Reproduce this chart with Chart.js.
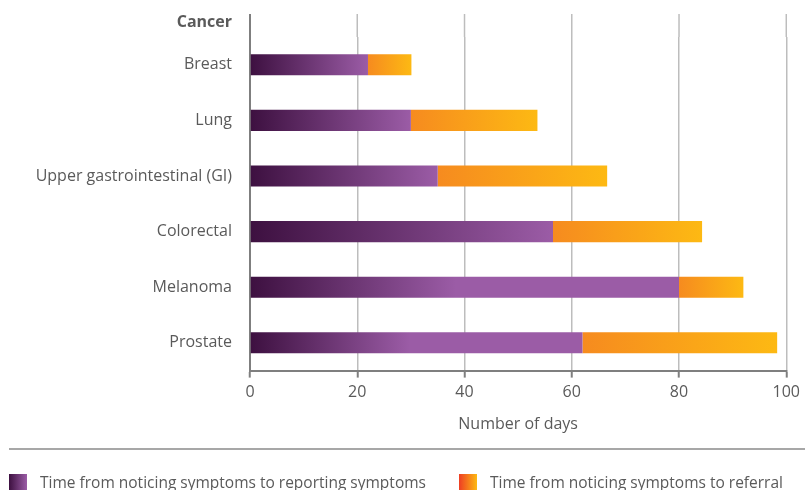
<!DOCTYPE html>
<html lang="en">
  <head>
    <meta charset="UTF-8" />
    <title>Cancer referral times</title>
    <script src="https://cdn.jsdelivr.net/npm/chart.js"></script>
    <style>
      html, body { margin: 0; padding: 0; background: #fff; overflow: hidden; }
      #wrap { position: relative; width: 805px; height: 490px; }
    </style>
  </head>
  <body>
    <div id="wrap"><canvas id="myChart"></canvas></div>

    <script>
      // data (days)
      const cancers = ['Breast', 'Lung', 'Upper gastrointestinal (GI)', 'Colorectal', 'Melanoma', 'Prostate'];
      const reportingDays = [22, 30, 35, 56.5, 80, 62];
      const referralDays = [8.1, 23.6, 31.6, 27.8, 12, 36.3];
      const xTicks = [0, 20, 40, 60, 80, 100];
      const seriesNames = [
        'Time from noticing symptoms to reporting symptoms',
        'Time from noticing symptoms to referral'
      ];

      const FONT = "'Open Sans', 'Noto Sans', sans-serif";
      const TEXT = '#5a5a5a';
      const PURPLE = ['#3d1040', '#9b5ca6'];
      const ORANGE = ['#f68b1f', '#fdb913'];

      function barGradient(ctx, from, to, c0, c1, stopAt) {
        const chart = ctx.chart;
        if (!chart.chartArea) return c1;
        const x = chart.scales.x;
        const x0 = x.getPixelForValue(from);
        const x1 = x.getPixelForValue(to);
        const g = chart.ctx.createLinearGradient(x0, 0, x0 + (x1 - x0) * stopAt, 0);
        g.addColorStop(0, c0);
        g.addColorStop(1, c1);
        return g;
      }

      // grid above the plot, heading, rule and legend
      const extras = {
        id: 'extras',
        afterDraw(chart) {
          const ctx = chart.ctx;
          const area = chart.chartArea;
          const x = chart.scales.x;
          ctx.save();
          ctx.lineWidth = 1.5;
          ctx.strokeStyle = '#bdbdbd';
          xTicks.slice(1).forEach(v => {
            const px = x.getPixelForValue(v);
            ctx.beginPath();
            ctx.moveTo(px, 14);
            ctx.lineTo(px, area.top);
            ctx.stroke();
          });
          ctx.lineWidth = 2;
          ctx.strokeStyle = '#7f7f7f';
          ctx.beginPath();
          ctx.moveTo(area.left, 14);
          ctx.lineTo(area.left, area.top);
          ctx.stroke();

          ctx.font = 'bold 16px ' + FONT;
          ctx.fillStyle = TEXT;
          ctx.textAlign = 'right';
          ctx.textBaseline = 'middle';
          ctx.fillText('Cancer', 232, 22);

          ctx.lineWidth = 1.5;
          ctx.strokeStyle = '#8a8a8a';
          ctx.beginPath();
          ctx.moveTo(9, 449);
          ctx.lineTo(805, 449);
          ctx.stroke();

          // legend
          const items = [
            { x: 9, colors: PURPLE, text: seriesNames[0] },
            { x: 459, colors: ['#ee3e24', '#fdb913'], text: seriesNames[1] }
          ];
          ctx.font = '15.5px ' + FONT;
          ctx.textAlign = 'left';
          items.forEach(it => {
            const g = ctx.createLinearGradient(it.x, 0, it.x + 18, 0);
            g.addColorStop(0, it.colors[0]);
            g.addColorStop(1, it.colors[1]);
            ctx.fillStyle = g;
            ctx.fillRect(it.x, 474, 18, 18);
            ctx.fillStyle = TEXT;
            ctx.fillText(it.text, it.x + 31, 484);
          });
          ctx.restore();
        }
      };

      const ctx = document.getElementById('myChart').getContext('2d');
      new Chart(ctx, {
        type: 'bar',
        data: {
          labels: cancers,
          datasets: [
            {
              label: seriesNames[0],
              data: reportingDays,
              backgroundColor: c => barGradient(c, 0, reportingDays[c.dataIndex], PURPLE[0], PURPLE[1],
                reportingDays[c.dataIndex] > 60 ? 0.48 : 1),
              borderWidth: 0
            },
            {
              label: seriesNames[1],
              data: referralDays,
              backgroundColor: c => barGradient(c, reportingDays[c.dataIndex],
                reportingDays[c.dataIndex] + referralDays[c.dataIndex], ORANGE[0], ORANGE[1], 1),
              borderWidth: 0
            }
          ]
        },
        options: {
          indexAxis: 'y',
          responsive: true,
          maintainAspectRatio: false,
          animation: false,
          layout: { padding: { top: 37, right: 17, left: 0, bottom: 44 } },
          datasets: { bar: { categoryPercentage: 1, barPercentage: 0.38 } },
          scales: {
            x: {
              stacked: true,
              min: 0,
              max: 100,
              afterBuildTicks: axis => { axis.ticks = xTicks.map(v => ({ value: v })); },
              ticks: { color: TEXT, font: { family: FONT, size: 16 }, padding: 5 },
              grid: { color: '#bdbdbd', lineWidth: 1.5, tickLength: 7, tickColor: '#7f7f7f', tickWidth: 2 },
              border: { color: '#7f7f7f', width: 2 },
              title: {
                display: true,
                text: 'Number of days',
                color: TEXT,
                font: { family: FONT, size: 16 },
                padding: { top: 8, bottom: 12 }
              }
            },
            y: {
              stacked: true,
              afterFit: axis => { axis.width = 250; },
              ticks: { color: TEXT, font: { family: FONT, size: 16 }, padding: 18 },
              grid: { display: false, drawTicks: false },
              border: { color: '#7f7f7f', width: 2 }
            }
          },
          plugins: {
            tooltip: { enabled: false },
            legend: { display: false }
          }
        },
        plugins: [extras]
      });
    </script>
  </body>
</html>
